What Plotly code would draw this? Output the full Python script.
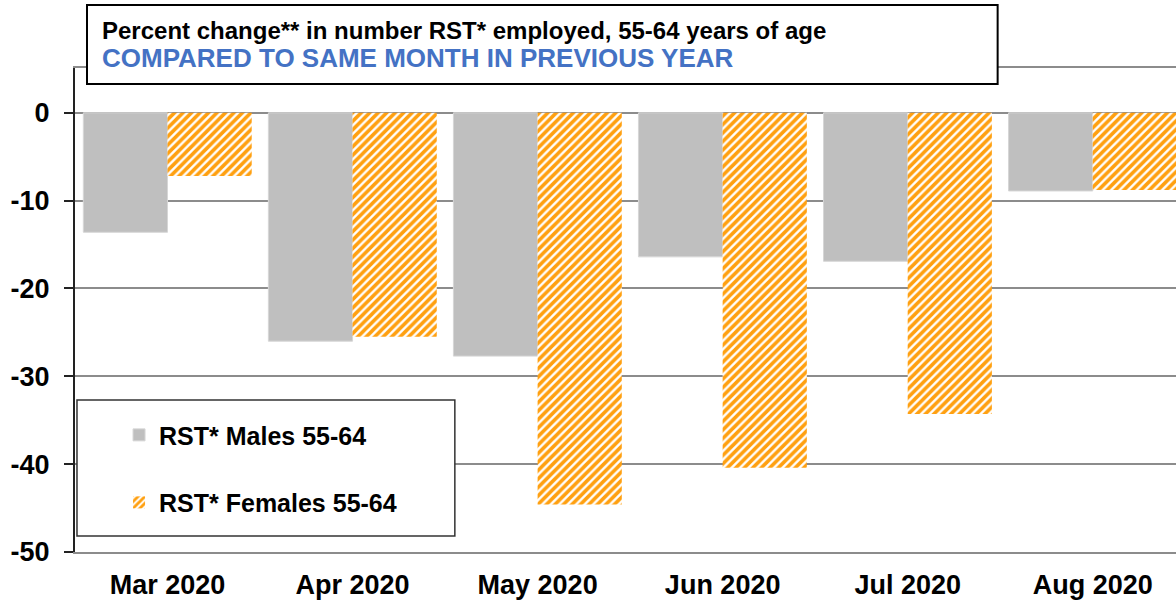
import plotly.graph_objects as go

# Monthly categories and year-over-year percent change for each group
months = ["Mar 2020", "Apr 2020", "May 2020", "Jun 2020", "Jul 2020", "Aug 2020"]
males_55_64 = [-13.6, -26.0, -27.7, -16.4, -16.9, -8.9]
females_55_64 = [-7.2, -25.5, -44.6, -40.4, -34.3, -8.8]
y_ticks = [0, -10, -20, -30, -40, -50]
y_tick_labels = ["0", "-10", "-20", "-30", "-40", "-50"]

FONT = "Liberation Sans, Arial, sans-serif"
GRID = "#8c8c8c"
ORANGE = "#FFA010"

fig = go.Figure()
fig.add_trace(go.Bar(
    x=months, y=males_55_64, name="RST* Males 55-64",
    marker=dict(color="#BFBFBF", line=dict(color="#D6D6D6", width=1)),
    legendgroup="m",
))
fig.add_trace(go.Bar(
    x=months, y=females_55_64, name="RST* Females 55-64",
    marker=dict(
        color=ORANGE,
        line=dict(width=0),
        pattern=dict(shape="/", fgcolor=ORANGE, bgcolor="#FFFFFF",
                     size=6, solidity=0.6, fgopacity=1),
    ),
    legendgroup="f",
))

fig.update_layout(
    width=1176, height=603,
    margin=dict(l=75, r=0, t=68, b=51),
    paper_bgcolor="white", plot_bgcolor="white",
    barmode="group", bargap=0.09, bargroupgap=0,
    font=dict(family=FONT, size=24, color="black", weight="bold"),
    showlegend=True,
    legend=dict(
        x=0.040, y=0.289, xanchor="left", yanchor="top",
        bgcolor="rgba(0,0,0,0)", borderwidth=0,
        font=dict(family=FONT, size=25, color="black", weight="bold"),
        traceorder="grouped", tracegroupgap=32,
    ),
    xaxis=dict(
        type="category", range=[-0.5, 5.45],
        showgrid=False, showline=True, mirror=True,
        linecolor=GRID, linewidth=2, ticks="",
        ticklabelstandoff=8,
        tickfont=dict(family=FONT, size=27, color="black", weight="bold"),
    ),
    yaxis=dict(
        range=[-50, 5.1], tickvals=y_ticks, ticktext=y_tick_labels,
        showgrid=True, gridcolor=GRID, gridwidth=2, zeroline=False,
        showline=True, linecolor="#222222", linewidth=2,
        ticks="outside", ticklen=9, tickcolor="#222222", tickwidth=1.5,
        ticklabelstandoff=9,
        tickfont=dict(family=FONT, size=27, color="black", weight="bold"),
    ),
    shapes=[
        # title frame
        dict(type="rect", xref="paper", yref="paper",
             x0=0.0109, x1=0.838, y0=0.967, y1=1.130,
             fillcolor="white", line=dict(color="black", width=2), layer="above"),
        # legend frame
        dict(type="rect", xref="paper", yref="paper",
             x0=0.0018, x1=0.345, y0=0.033, y1=0.314,
             fillcolor="white", line=dict(color="#333333", width=1.5), layer="above"),
    ],
    annotations=[
        dict(text="Percent change** in number RST* employed, 55-64 years of age",
             xref="paper", yref="paper", x=0.0227, y=1.0785,
             xanchor="left", yanchor="middle", showarrow=False,
             font=dict(family=FONT, size=24, color="black", weight="bold")),
        dict(text="COMPARED TO SAME MONTH IN PREVIOUS YEAR",
             xref="paper", yref="paper", x=0.0227, y=1.0207,
             xanchor="left", yanchor="middle", showarrow=False,
             font=dict(family=FONT, size=26, color="#4472C4", weight="bold")),
    ],
)

fig.write_html("out.html")
